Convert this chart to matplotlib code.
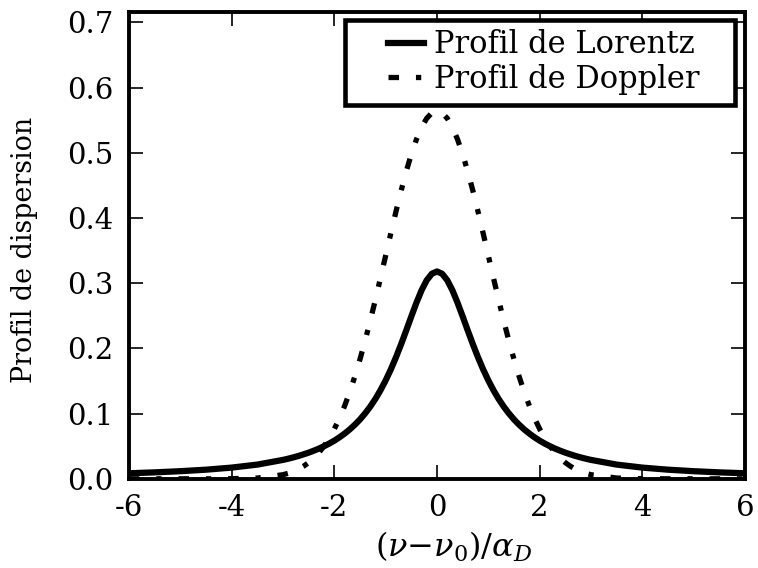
import matplotlib
import matplotlib.pyplot as plt
from matplotlib.patches import Rectangle

matplotlib.use('Agg')

plt.rcParams['font.family'] = 'DejaVu Serif'
plt.rcParams['mathtext.fontset'] = 'dejavuserif'
plt.rcParams['axes.unicode_minus'] = False

# abscisse reduite (nu - nu0) / alpha_D
x = [-6.0, -5.5, -5.0, -4.5, -4.0, -3.5,
     -3.0, -2.9, -2.8, -2.7, -2.6, -2.5, -2.4, -2.3, -2.2, -2.1,
     -2.0, -1.9, -1.8, -1.7, -1.6, -1.5, -1.4, -1.3, -1.2, -1.1,
     -1.0, -0.9, -0.8, -0.7, -0.6, -0.5, -0.4, -0.3, -0.2, -0.1,
     0.0,
     0.1, 0.2, 0.3, 0.4, 0.5, 0.6, 0.7, 0.8, 0.9, 1.0,
     1.1, 1.2, 1.3, 1.4, 1.5, 1.6, 1.7, 1.8, 1.9, 2.0,
     2.1, 2.2, 2.3, 2.4, 2.5, 2.6, 2.7, 2.8, 2.9, 3.0,
     3.5, 4.0, 4.5, 5.0, 5.5, 6.0]

# moitie x >= 0, le profil est symetrique
lorentz_half = [0.318,
                0.3145, 0.3045, 0.2892, 0.2701, 0.2490, 0.2273, 0.2061, 0.1861, 0.1676, 0.1509,
                0.1359, 0.1225, 0.1107, 0.1003, 0.0910, 0.0829, 0.0757, 0.0693, 0.0636, 0.0585,
                0.0540, 0.0500, 0.0463, 0.0431, 0.0401, 0.0375, 0.0350, 0.0328, 0.0308, 0.0290,
                0.0218, 0.0172, 0.0140, 0.0117, 0.0099, 0.0085]
doppler_half = [0.564,
                0.5612, 0.5528, 0.5392, 0.5206, 0.4977, 0.4711, 0.4414, 0.4095, 0.3762, 0.3421,
                0.3080, 0.2745, 0.2423, 0.2117, 0.1831, 0.1568, 0.1329, 0.1116, 0.0928, 0.0763,
                0.0622, 0.0502, 0.0400, 0.0317, 0.0248, 0.0192, 0.0147, 0.0112, 0.0084, 0.0063,
                0.0012, 0.0002, 0.0, 0.0, 0.0, 0.0]

lorentz = lorentz_half[:0:-1] + lorentz_half
doppler = doppler_half[:0:-1] + doppler_half

fig = plt.figure(figsize=(7.58, 5.68), dpi=100)
ax = fig.add_axes([0.170, 0.157, 0.813, 0.822])

ax.plot(x, lorentz, color='black', lw=4.5, label='Profil de Lorentz')
ax.plot(x, doppler, color='black', lw=3.8, linestyle=(0, (2.0, 3.2, 1.0, 3.2)),
        label='Profil de Doppler')

ax.set(
    xlim=(-6, 6),
    ylim=(0, 0.716),
    xticks=[-6, -4, -2, 0, 2, 4, 6],
    yticks=[0.0, 0.1, 0.2, 0.3, 0.4, 0.5, 0.6, 0.7],
)
ax.set_xticklabels(['-6', '-4', '-2', '0', '2', '4', '6'])
ax.set_yticklabels(['0.0', '0.1', '0.2', '0.3', '0.4', '0.5', '0.6', '0.7'])
ax.tick_params(direction='in', length=10, width=1.2, labelsize=21,
               top=True, right=True)
ax.tick_params(axis='x', pad=11)
ax.tick_params(axis='y', pad=11)
for s in ax.spines.values():
    s.set_linewidth(2.8)

ax.set_xlabel(r'$(\nu{-}\nu_0)/\alpha_D$', fontsize=23)
ax.xaxis.set_label_coords(0.528, -0.110)
ax.set_ylabel('Profil de dispersion', fontsize=19.4)
ax.yaxis.set_label_coords(-0.148, 0.490)

# cadre de la legende, plus large que le contenu
ax.add_patch(Rectangle((0.351, 0.801), 0.633, 0.182, transform=ax.transAxes,
                       facecolor='white', edgecolor='black', lw=3.3, zorder=4,
                       clip_on=False))
leg = ax.legend(loc='upper left', bbox_to_anchor=(0.420, 0.963), fontsize=22,
                frameon=False, handlelength=1.2, handletextpad=0.32,
                borderpad=0, labelspacing=0.12, borderaxespad=0)
leg.set_zorder(5)

fig.savefig('out.png', dpi=100)
